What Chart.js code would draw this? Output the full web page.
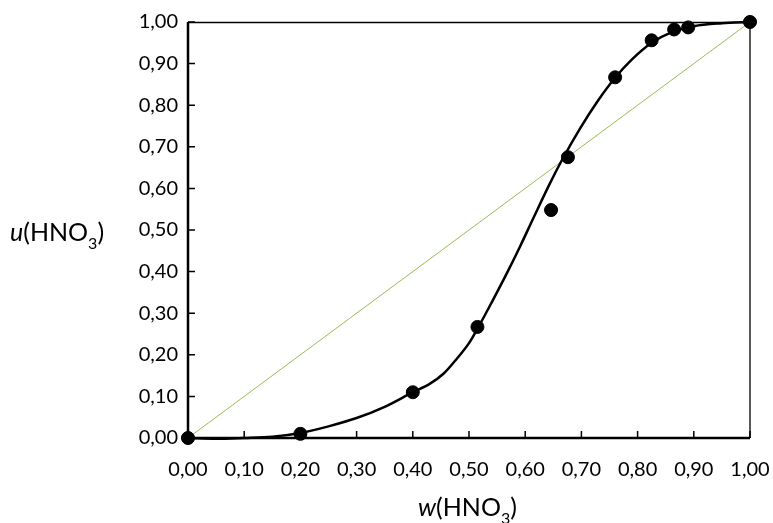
<!DOCTYPE html>
<html><head><meta charset="utf-8">
<script src="https://cdn.jsdelivr.net/npm/chart.js@4/dist/chart.umd.min.js"></script>
<style>html,body{margin:0;padding:0;background:#fff}#wrap{width:773px;height:523px}</style>
</head><body><div id="wrap"><canvas id="c" width="773" height="523"></canvas></div>
<script>
// Experimental points
const wPoints = [0, 0.20, 0.40, 0.515, 0.646, 0.676, 0.76, 0.825, 0.865, 0.89, 1.00];
const uPoints = [0, 0.01, 0.11, 0.267, 0.548, 0.675, 0.867, 0.956, 0.982, 0.987, 1.00];
// Smooth fitted curve
const wCurve = [0, 0.05, 0.10, 0.15, 0.20, 0.25, 0.30, 0.35, 0.40, 0.43, 0.455, 0.478, 0.50, 0.516, 0.54, 0.567, 0.59, 0.614, 0.644, 0.665, 0.698, 0.73, 0.76, 0.79, 0.825, 0.86, 0.90, 0.95, 1.00];
const uCurve = [0, -0.002, 0.0, 0.003, 0.012, 0.028, 0.048, 0.075, 0.11, 0.13, 0.155, 0.19, 0.228, 0.265, 0.325, 0.395, 0.458, 0.527, 0.612, 0.667, 0.745, 0.812, 0.866, 0.91, 0.95, 0.975, 0.99, 0.997, 1.0];
// Diagonal y = x
const wDiag = [0, 1];
const uDiag = [0, 1];
const tickValues = [0, 0.1, 0.2, 0.3, 0.4, 0.5, 0.6, 0.7, 0.8, 0.9, 1.0];

const toXY = (xs, ys) => xs.map((x, i) => ({x: x, y: ys[i]}));
const FONT = 'Lato';
const fmt = v => v.toFixed(2).replace('.', ',');

const framePlugin = {
  id: 'frame',
  afterDatasetsDraw(chart) {
    const {ctx, chartArea: a, scales: {x, y}} = chart;
    ctx.save();
    ctx.strokeStyle = '#000';
    ctx.lineWidth = 1.3;
    ctx.beginPath();
    ctx.moveTo(a.left, a.top + 0.5); ctx.lineTo(a.right, a.top + 0.5);
    ctx.moveTo(a.right, a.top); ctx.lineTo(a.right, a.bottom);
    ctx.stroke();
    ctx.lineWidth = 1.5;
    ctx.beginPath();
    tickValues.forEach(v => {
      const px = x.getPixelForValue(v);
      ctx.moveTo(px, a.bottom); ctx.lineTo(px, a.bottom - 7);
      const py = y.getPixelForValue(v);
      ctx.moveTo(a.left, py); ctx.lineTo(a.left + 7, py);
    });
    ctx.stroke();
    ctx.lineWidth = 2.5;
    ctx.beginPath();
    ctx.moveTo(a.left, a.top); ctx.lineTo(a.left, a.bottom);
    ctx.lineTo(a.right, a.bottom);
    ctx.stroke();
    // redraw end markers on top of frame
    const pts = chart.getDatasetMeta(0).data;
    ctx.fillStyle = '#000';
    [pts[0], pts[pts.length - 1]].forEach(p => {
      ctx.beginPath(); ctx.arc(p.x, p.y, 6.5, 0, Math.PI * 2); ctx.fill();
    });
    ctx.restore();
  },
  afterDraw(chart) {
    const {ctx} = chart;
    ctx.save();
    ctx.fillStyle = '#000';
    ctx.textBaseline = 'alphabetic';
    function title(letter, xStart, baseline) {
      let xp = xStart;
      ctx.font = 'italic 25px ' + FONT;
      ctx.fillText(letter, xp, baseline); xp += ctx.measureText(letter).width;
      ctx.font = '25px ' + FONT;
      ctx.fillText('(HNO', xp, baseline); xp += ctx.measureText('(HNO').width;
      ctx.font = '16px ' + FONT;
      ctx.fillText('3', xp, baseline + 8); xp += ctx.measureText('3').width;
      ctx.font = '25px ' + FONT;
      ctx.fillText(')', xp, baseline);
    }
    title('u', 10, 241);
    title('w', 418, 516);
    ctx.restore();
  }
};

new Chart(document.getElementById('c'), {
  type: 'scatter',
  data: {
    datasets: [
      { data: toXY(wPoints, uPoints), backgroundColor: '#000', borderColor: '#000', pointRadius: 6.5, pointHoverRadius: 6.5, showLine: false, clip: false, order: 0 },
      { data: toXY(wCurve, uCurve), borderColor: '#000', borderWidth: 2.5, pointRadius: 0, showLine: true, cubicInterpolationMode: 'monotone', clip: false, order: 1 },
      { data: toXY(wDiag, uDiag), borderColor: '#9BBB59', borderWidth: 1, pointRadius: 0, showLine: true, order: 2 }
    ]
  },
  options: {
    responsive: false,
    animation: false,
    devicePixelRatio: 1,
    layout: { padding: { left: 0, right: 23, top: 22, bottom: 0 } },
    plugins: { legend: { display: false }, tooltip: { enabled: false } },
    scales: {
      x: {
        type: 'linear', min: 0, max: 1,
        afterBuildTicks: s => { s.ticks = tickValues.map(v => ({value: v})); },
        afterFit: s => { s.height = 85; s.paddingLeft = 0; s.paddingRight = 0; },
        grid: { display: false, drawTicks: false },
        border: { display: false },
        ticks: { color: '#000', font: { family: FONT, size: 20 }, padding: 20, maxRotation: 0, autoSkip: false, callback: v => fmt(v) }
      },
      y: {
        type: 'linear', min: 0, max: 1,
        afterBuildTicks: s => { s.ticks = tickValues.map(v => ({value: v})); },
        afterFit: s => { s.width = 188; s.paddingTop = 0; s.paddingBottom = 0; },
        grid: { display: false, drawTicks: false },
        border: { display: false },
        ticks: { color: '#000', font: { family: FONT, size: 20 }, padding: 10, autoSkip: false, callback: v => fmt(v) }
      }
    }
  },
  plugins: [framePlugin]
});
</script></body></html>
